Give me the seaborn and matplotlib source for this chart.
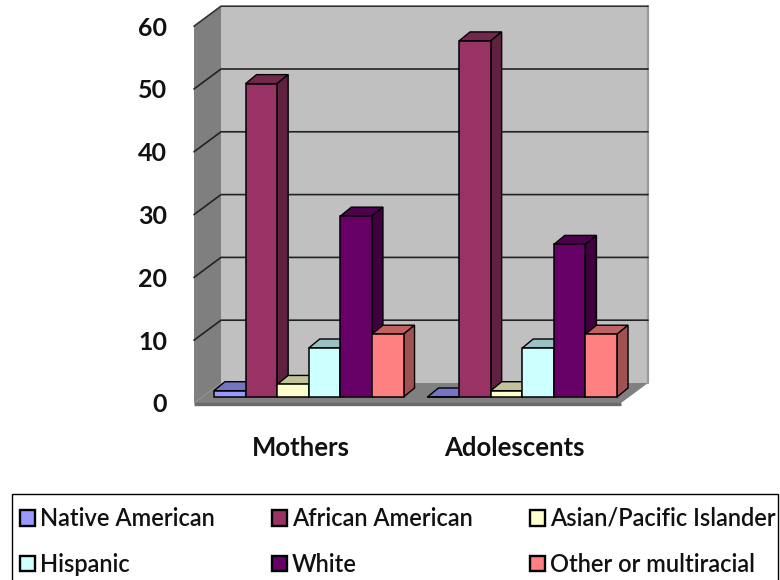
import matplotlib
matplotlib.use("Agg")
import matplotlib.pyplot as plt
import matplotlib.transforms as mtrans
import numpy as np
import pandas as pd
import seaborn as sns

# Survey shares by race/ethnicity, in percent
groups = ["Mothers", "Adolescents"]
races = ["Native American", "African American", "Asian/Pacific Islander",
         "Hispanic", "White", "Other or multiracial"]
mothers = [1, 49.9, 2, 7.8, 28.8, 10]
adolescents = [0, 56.7, 1, 7.8, 24.3, 10]
colors = ["#9999FF", "#993366", "#FFFFCC", "#CCFFFF", "#660066", "#FF8080"]
y_ticks = [0, 10, 20, 30, 40, 50, 60]

W, H, DPI = 780, 580, 100
sns.set_theme(style="white")
plt.rcParams["font.family"] = ["Lato", "DejaVu Sans"]

fig = plt.figure(figsize=(W / DPI, H / DPI), dpi=DPI, facecolor="white")
# The axes frame is the plane the bar fronts stand on
ax = fig.add_axes([202 / W, (H - 397) / H, 427 / W, 376.8 / H])
ax.patch.set_visible(False)

df = pd.DataFrame({
    "group": np.repeat(groups, len(races)),
    "race": races * len(groups),
    "share": mothers + adolescents,
})
sns.barplot(data=df, x="group", y="share", hue="race", hue_order=races,
            palette=colors, saturation=1, width=0.888, gap=0,
            edgecolor="black", linewidth=1.1, ax=ax)
handles, labels = ax.get_legend_handles_labels()
ax.get_legend().remove()
# Only real bars: empty placeholder patches have no width
bars = sorted((p for p in ax.patches if p.get_width() > 0),
              key=lambda p: p.get_x())

ax.set_xlim(-0.5, 1.5)
ax.set_ylim(0, 60)
ax.set_xlabel("")
ax.set_ylabel("")
sns.despine(ax=ax, left=True, bottom=True)

# Pixel distances expressed in data units
ux, uy = 2 / 427, 60 / 376.8
x0, x1, y1 = -0.5, 1.5, 60
back = (19 * ux, 14 * uy)     # bar plane to rear wall
front = (-8 * ux, -6 * uy)    # bar plane to front edge of the floor
depth = (11 * ux, 9 * uy)     # depth of each bar


def shade(color, f):
    r, g, b = matplotlib.colors.to_rgb(color)
    return (r * f, g * f, b * f)


# Box walls and floor
ax.fill([x0 + back[0], x1 + back[0], x1 + back[0], x0 + back[0]],
        [back[1], back[1], y1 + back[1], y1 + back[1]],
        color="#C0C0C0", lw=0, clip_on=False, zorder=0)
ax.fill([x0 + front[0], x0 + back[0], x0 + back[0], x0 + front[0]],
        [front[1], back[1], y1 + back[1], y1 + front[1]],
        color="#7F7F7F", lw=0, clip_on=False, zorder=0.1)
ax.fill([x0 + front[0], x1 + front[0], x1 + back[0], x0 + back[0]],
        [front[1], front[1], back[1], back[1]],
        color="#808080", lw=0, clip_on=False, zorder=0.1)
ax.plot([x0 + front[0], x1 + front[0]], [front[1] - 1 * uy] * 2,
        color="#6A6A6A", lw=2.4, clip_on=False, zorder=0.2,
        solid_capstyle="butt")
ax.plot([x1 + back[0]] * 2, [back[1], y1 + back[1]], color="#9A9A9A",
        lw=1.6, clip_on=False, zorder=0.2)

# Gridlines run along the rear wall and fold down the side wall
for v in y_ticks[1:]:
    lc = "#222222" if v < y_ticks[-1] else "#333333"
    ax.plot([x0 + front[0], x0 + back[0], x1 + back[0]],
            [v + front[1], v + back[1], v + back[1]],
            color=lc, lw=1.2, clip_on=False, zorder=0.3)

# Extrude the bars; ordered left to right so nearer fronts hide earlier sides
for i, bar in enumerate(bars):
    x, w, h = bar.get_x(), bar.get_width(), bar.get_height()
    fc = bar.get_facecolor()
    base = 2 + i
    ax.fill([x, x + w, x + w + depth[0], x + depth[0]],
            [h, h, h + depth[1], h + depth[1]],
            facecolor=shade(fc, 0.76), edgecolor="black", lw=1.0,
            clip_on=False, zorder=base)
    ax.fill([x + w, x + w + depth[0], x + w + depth[0], x + w],
            [0, depth[1], h + depth[1], h],
            facecolor=shade(fc, 0.63), edgecolor="black", lw=1.0,
            clip_on=False, zorder=base)
    bar.set_zorder(base + 0.5)
    bar.set_clip_on(False)

# Tick labels sit on the front edge of the box
ax.set_yticks(y_ticks)
ax.set_yticklabels([str(v) for v in y_ticks], fontsize=18, weight="bold",
                   color="#111111")
ax.tick_params(axis="y", length=0, pad=25)
ax.tick_params(axis="x", length=0, pad=28)
ax.set_xticks(range(len(groups)))
ax.set_xticklabels(groups, fontsize=18.5, weight="bold", color="#111111")
down = mtrans.ScaledTranslation(0, -6 / DPI, fig.dpi_scale_trans)
left = mtrans.ScaledTranslation(-8 / DPI, 0, fig.dpi_scale_trans)
for t in ax.get_yticklabels():
    t.set_transform(t.get_transform() + down)
for t in ax.get_xticklabels():
    t.set_transform(t.get_transform() + left)
ax.grid(False)

# Legend box runs past the lower edge of the figure
fig.add_artist(plt.Rectangle((12 / W, -10 / H), 766 / W, (H - 494 + 10) / H,
                             transform=fig.transFigure, fill=False,
                             edgecolor="black", linewidth=1.0))

# Matplotlib fills legend columns first, so reorder to read across the rows
order = [0, 3, 1, 4, 2, 5]
leg = fig.legend([handles[i] for i in order], [labels[i] for i in order],
                 ncols=3, loc="upper left",
                 bbox_to_anchor=(20 / W, (H - 507) / H),
                 frameon=False, borderaxespad=0, borderpad=0,
                 labelspacing=0.97,
                 handlelength=0.64, handleheight=0.64, handletextpad=0.21,
                 columnspacing=2.42,
                 prop={"family": "Lato", "size": 17, "weight": "semibold"})
for t in leg.get_texts():
    t.set_color("#111111")
for h in leg.legend_handles:
    h.set_linewidth(1.7)

fig.savefig("out.png", dpi=DPI)
